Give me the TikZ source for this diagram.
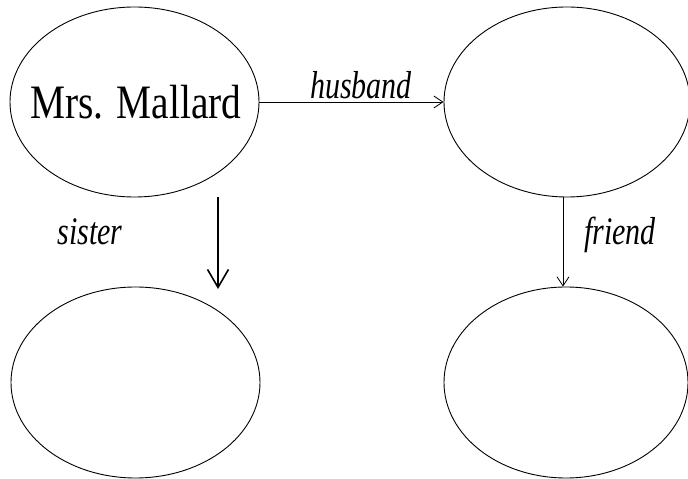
\documentclass[tikz,border=0pt]{standalone}
\usepackage{fontspec}
\setmainfont{Liberation Serif}
\usetikzlibrary{shapes.geometric,arrows.meta}
\tikzset{
  oval/.style={draw, ellipse, line width=0.9pt, inner sep=0pt, minimum width=#1},
  thinarr/.style={draw, line width=0.8pt, -{Straight Barb[length=9pt,width=12pt,line width=0.8pt]}},
  thickarr/.style={draw, line width=1.6pt, -{Straight Barb[length=18pt,width=21pt,line width=1.6pt]}},
  lbl/.style={anchor=base, inner sep=0pt, font=\fontsize{39}{39}\selectfont\itshape}
}
\begin{document}
\begin{tikzpicture}[x=1pt,y=1pt]
\useasboundingbox (0,0) rectangle (688,479);
\node[oval=249pt, minimum height=190pt] (TL) at (134.5,377) {};
\node[anchor=base, inner sep=0pt, font=\fontsize{48}{48}\selectfont] (tm) at (136,360)
  {\scalebox{0.82}[1]{Mrs. Mallard}};
\node[oval=246pt, minimum height=190pt] (TR) at (567,377) {};
\node[oval=249pt, minimum height=191pt] (BL) at (135.5,96.5) {};
\node[oval=244pt, minimum height=191pt] (BR) at (566,96.5) {};
\draw[thinarr] (TL.east) -- (TR.west);
\coordinate (s1) at (218,282);
\coordinate (s2) at (218,190);
\draw[thickarr] (s1) -- (s2);
\draw[thinarr] ([xshift=-4pt]TR.south) -- ([xshift=-4pt]TR.south |- BR.north);
\node[lbl] (lh) at (361,380) {\scalebox{0.77}[1]{husband}};
\node[lbl] (ls) at (90,234) {\scalebox{0.77}[1]{sister}};
\node[lbl] (lf) at (620,234) {\scalebox{0.77}[1]{friend}};
\end{tikzpicture}
\end{document}
